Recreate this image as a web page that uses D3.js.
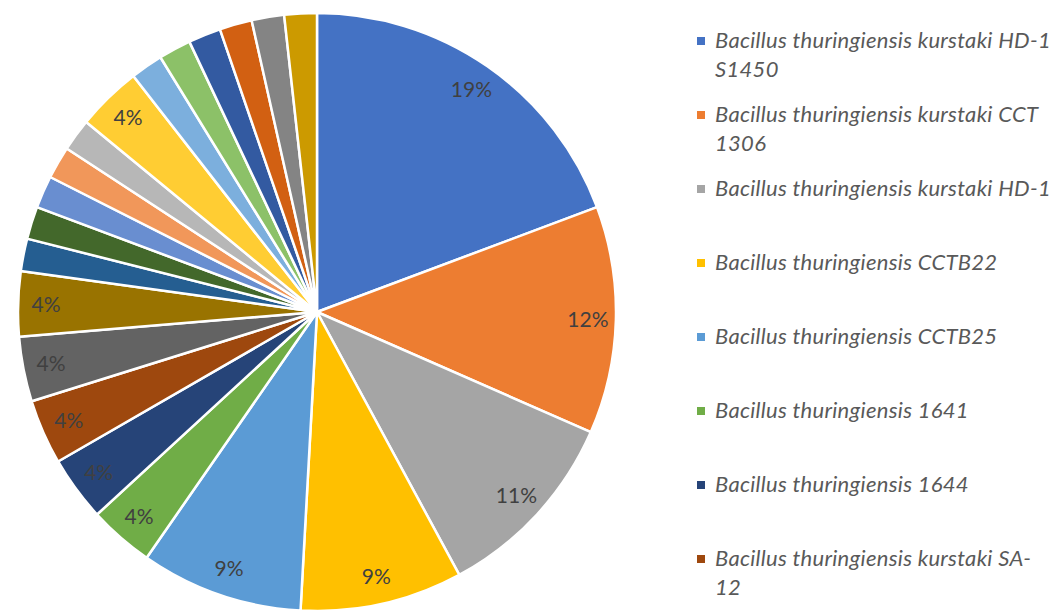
<!DOCTYPE html>
<html>
<head>
<meta charset="utf-8">
<script src="https://cdn.jsdelivr.net/npm/d3@7"></script>
<style>
	body { margin: 0; background: #fff; }
	svg { display: block; }
	.slice-label { font-family: Lato, "Open Sans", sans-serif; font-size: 21px; fill: #404040; }
	.legend-text { font-family: Lato, "Open Sans", sans-serif; font-style: italic; font-size: 22px; letter-spacing: 0.3px; fill: #595959; }
</style>
</head>
<body>
<svg id="chart"></svg>
<script>
// strain counts, in the order the slices run clockwise from 12 o'clock
var counts = [11, 7, 6, 5, 5, 2, 2, 2, 2, 2, 1, 1, 1, 1, 1, 2, 1, 1, 1, 1, 1, 1];

// only the first 8 legend entries are inside the picture, the rest run off the bottom
var legendNames = [
	["Bacillus thuringiensis kurstaki HD-1", "S1450"],
	["Bacillus thuringiensis kurstaki CCT", "1306"],
	["Bacillus thuringiensis kurstaki HD-1"],
	["Bacillus thuringiensis CCTB22"],
	["Bacillus thuringiensis CCTB25"],
	["Bacillus thuringiensis 1641"],
	["Bacillus thuringiensis 1644"],
	["Bacillus thuringiensis kurstaki SA-", "12"]
];

// office theme colours, cycled the way the spreadsheet does it
var sliceColors = [
	"#4472C4", "#ED7D31", "#A5A5A5", "#FFC000", "#5B9BD5", "#70AD47",
	"#264478", "#9E480E", "#636363", "#997300", "#255E91", "#43682B",
	"#698ED0", "#F1975A", "#B7B7B7", "#FFCD33", "#7CAFDD", "#8CC168",
	"#335AA1", "#D26012", "#848484", "#CC9A00"
];

var width = 1058,
	height = 611,
	cx = 317,
	cy = 312,
	radius = 299,
	labelRadius = 271;

var svg = d3.select("#chart")
	.attr("width", width)
	.attr("height", height);

var total = d3.sum(counts);
var format = d3.format(".0%");

var pie = d3.pie()
	.sort(null)
	.value(function(d) { return d; });

var arc = d3.arc()
	.innerRadius(0)
	.outerRadius(radius);

var labelArc = d3.arc()
	.innerRadius(labelRadius)
	.outerRadius(labelRadius);

var g = svg.append("g")
	.attr("transform", "translate(" + cx + "," + cy + ")");

var arcs = pie(counts);

g.selectAll(".slice")
	.data(arcs)
	.enter().append("path")
	.attr("class", "slice")
	.attr("d", arc)
	.attr("fill", function(d, i) { return sliceColors[i]; })
	.attr("stroke", "#fff")
	.attr("stroke-width", 2.5)
	.attr("stroke-linejoin", "round");

// the small 2% slices get no label in the original
g.selectAll(".slice-label")
	.data(arcs.filter(function(d) { return d.data >= 2; }))
	.enter().append("text")
	.attr("class", "slice-label")
	.attr("transform", function(d) { return "translate(" + labelArc.centroid(d) + ")"; })
	.attr("text-anchor", "middle")
	.attr("dy", "0.35em")
	.text(function(d) { return format(d.data / total); });

// legend
var legendX = 697,
	legendY = 41,
	legendStep = 74,
	lineHeight = 29;

var item = svg.selectAll(".legend-item")
	.data(legendNames)
	.enter().append("g")
	.attr("class", "legend-item")
	.attr("transform", function(d, i) { return "translate(" + legendX + "," + (legendY + i * legendStep) + ")"; });

item.append("rect")
	.attr("x", 0)
	.attr("y", -4)
	.attr("width", 8)
	.attr("height", 8)
	.attr("fill", function(d, i) { return sliceColors[i]; });

item.append("text")
	.attr("class", "legend-text")
	.attr("x", 18)
	.attr("y", 7)
	.selectAll("tspan")
	.data(function(d) { return d; })
	.enter().append("tspan")
	.attr("x", 18)
	.attr("dy", function(d, i) { return i === 0 ? 0 : lineHeight; })
	.text(function(d) { return d; });
</script>
</body>
</html>
